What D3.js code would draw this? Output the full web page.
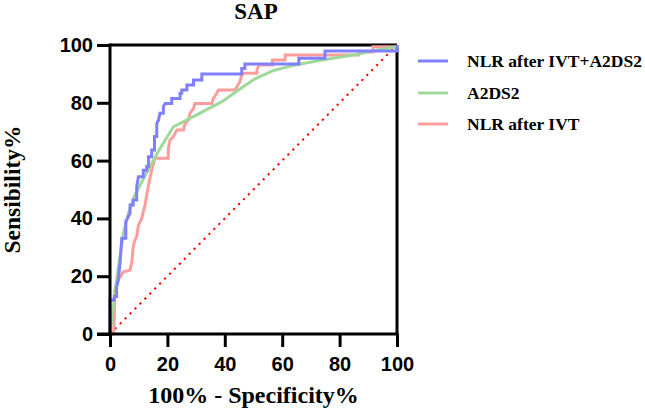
<!DOCTYPE html>
<html>
<head>
<meta charset="utf-8">
<script src="https://cdn.jsdelivr.net/npm/d3@7"></script>
<style>
  html, body { margin: 0; padding: 0; background: #fff; }
  svg { display: block; }
</style>
</head>
<body>
<svg id="chart" width="645" height="412"></svg>
<script>
// ---- data ----
const chartTitle = "SAP";
const xAxisTitle = "100% - Specificity%";
const yAxisTitle = "Sensibility%";
const tickValues = [0, 20, 40, 60, 80, 100];
const seriesNames = ["NLR after IVT+A2DS2", "A2DS2", "NLR after IVT"];

// NLR after IVT+A2DS2 (staircase ROC)
const comboX = [0,0,1.5,1.5,2.3,2.3,2.9,3.5,4.1,5.5,5.5,7,7,8.1,8.1,9.3,9.3,9.9,11.6,11.6,12.8,12.8,13.4,13.4,14.5,14.5,15.5,15.5,16.3,16.3,16.9,17.4,18.6,18.6,19.2,21.5,21.5,24.4,24.4,25,25,26.8,26.8,29.1,29.1,32,32,45.9,45.9,47,47,65.8,65.8,74.9,74.9,100,100];
const comboY = [0,11.8,11.8,13,13,16.4,18.7,24.5,33.1,33.1,38.9,41.8,44.6,44.6,46.4,46.4,51,54.4,54.4,56.7,56.7,58,58,61.3,61.3,63.7,63.7,68.3,68.3,72.9,74,76.4,76.4,78.7,79.8,79.8,81.5,81.5,83.3,83.3,84.4,84.4,86.2,86.2,87.9,87.9,90,90,91.9,91.9,93.4,93.4,95.4,95.4,97.9,97.9,100];

// A2DS2
const a2dsX = [0,1.2,2.3,3.5,4.7,6.4,8.4,11,13.4,16.9,22.1,30.2,39,45,50.5,57,65,75,86,93,100,100];
const a2dsY = [0,9.5,18.7,27,35,41.8,47.5,52.5,57,63.3,71.7,75.8,80.4,84.6,88.3,91.2,93.2,95,96.7,98.3,99.4,100];

// NLR after IVT (staircase ROC)
const nlrX = [0,1.2,1.5,1.7,2.9,3.5,4.7,7,7.6,8.1,8.7,9.3,9.9,11,12.2,12.8,13.4,14.5,15.7,20.3,20.3,20.9,22.1,23.3,25.6,26.2,27.3,27.9,29.1,29.6,35.5,36,37.2,37.8,43.6,44.2,45.3,45.9,46.5,51.2,51.2,52,56.6,56.6,61,61,86.6,86.6,91.6,91.6,100,100];
const nlrY = [0,0,4.8,15.2,18.7,19.8,21.5,22.1,25,30.2,32.5,33.7,37.6,39.8,44.6,48.1,51.5,56.7,60.8,60.8,64,67.1,68.3,70.6,70.6,72.9,74,76.4,78.1,79.8,79.8,81.5,83.3,84.4,84.4,85.6,87.4,89.6,90.2,90.2,91.5,93.1,93.1,94.8,94.8,96.5,96.5,97.6,97.6,99.4,99.4,100];

const refX = [0, 100];
const refY = [0, 100];

// ---- layout ----
const svg = d3.select("#chart");
const x = d3.scaleLinear().domain([0, 100]).range([110, 397]);
const y = d3.scaleLinear().domain([0, 100]).range([334, 45]);

const colors = ["#8080ff", "#9fd99a", "#ff9c9c"];
const sansBold = "'Liberation Sans', Arial, sans-serif";
const serifBold = "'Liberation Serif', 'Times New Roman', serif";

const zip = (xs, ys) => xs.map((v, i) => [v, ys[i]]);
const line = d3.line().x(d => x(d[0])).y(d => y(d[1]));

// frame (top + right)
svg.append("line").attr("x1", x(0)).attr("x2", x(100)).attr("y1", y(100)).attr("y2", y(100))
  .attr("stroke", "#000").attr("stroke-width", 3);
svg.append("line").attr("x1", x(100)).attr("x2", x(100)).attr("y1", y(0)).attr("y2", y(100))
  .attr("stroke", "#000").attr("stroke-width", 3);

// reference diagonal
svg.append("path").datum(zip(refX, refY)).attr("d", line)
  .attr("fill", "none").attr("stroke", "#ff0000").attr("stroke-width", 2)
  .attr("stroke-dasharray", "2.2,4.8");

// curves
const curves = [
  {name: seriesNames[2], data: zip(nlrX, nlrY), color: colors[2]},
  {name: seriesNames[1], data: zip(a2dsX, a2dsY), color: colors[1]},
  {name: seriesNames[0], data: zip(comboX, comboY), color: colors[0]}
];
curves.forEach(c => {
  svg.append("path").datum(c.data).attr("d", line)
    .attr("fill", "none").attr("stroke", c.color).attr("stroke-width", 3)
    .attr("stroke-linejoin", "miter");
});

// axes
const xAxis = svg.append("g").attr("transform", `translate(0,${y(0)})`)
  .call(d3.axisBottom(x).tickValues(tickValues).tickSize(13).tickPadding(10).tickSizeOuter(0));
const yAxis = svg.append("g").attr("transform", `translate(${x(0)},0)`)
  .call(d3.axisLeft(y).tickValues(tickValues).tickSize(13).tickPadding(4).tickSizeOuter(0));
[xAxis, yAxis].forEach(g => {
  g.select(".domain").attr("stroke", "#000").attr("stroke-width", 3);
  g.selectAll(".tick line").attr("stroke", "#000").attr("stroke-width", 3);
  g.selectAll(".tick text").attr("fill", "#000")
    .style("font-family", sansBold).style("font-weight", "bold").style("font-size", "20px");
});
xAxis.select(".domain").attr("d", `M${x(0) - 13},0H${x(100) + 1.5}`);
yAxis.select(".domain").attr("d", `M0,${y(0) + 1.5}V${y(100) - 1.5}`);

// titles
svg.append("text").attr("x", 256).attr("y", 19).attr("text-anchor", "middle")
  .style("font-family", serifBold).style("font-weight", "bold").style("font-size", "23px")
  .text(chartTitle);
svg.append("text").attr("x", (x(0) + x(100)) / 2).attr("y", 403).attr("text-anchor", "middle")
  .style("font-family", serifBold).style("font-weight", "bold").style("font-size", "24px")
  .text(xAxisTitle);
svg.append("text").attr("transform", `translate(20,${(y(0) + y(100)) / 2}) rotate(-90)`)
  .attr("text-anchor", "middle")
  .style("font-family", serifBold).style("font-weight", "bold").style("font-size", "23.5px")
  .text(yAxisTitle);

// legend
const legendY = [61, 93, 124];
seriesNames.forEach((n, i) => {
  const g = svg.append("g").attr("transform", `translate(0,${legendY[i]})`);
  g.append("line").attr("x1", 418).attr("x2", 448).attr("y1", 0).attr("y2", 0)
    .attr("stroke", colors[i]).attr("stroke-width", 3);
  g.append("text").attr("x", 467).attr("y", 6)
    .style("font-family", serifBold).style("font-weight", "bold").style("font-size", "17.5px")
    .text(n);
});
</script>
</body>
</html>
